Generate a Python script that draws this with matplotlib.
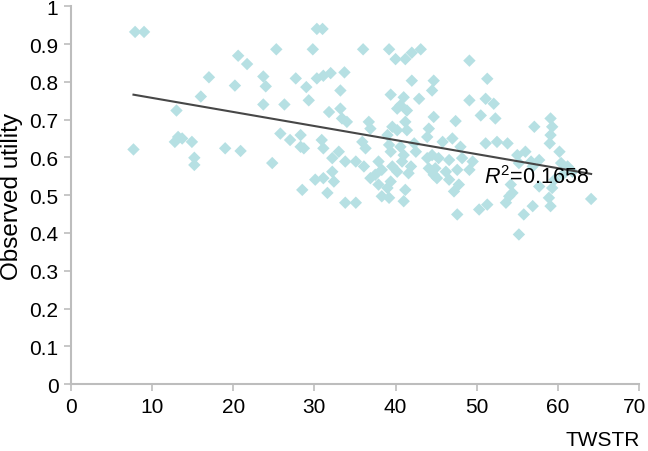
import numpy as np
import matplotlib
matplotlib.use("Agg")
import matplotlib.pyplot as plt
from matplotlib.transforms import ScaledTranslation

plt.rcParams['font.family'] = ['Liberation Sans', 'DejaVu Sans']
plt.rcParams['mathtext.fontset'] = 'custom'
plt.rcParams['mathtext.rm'] = 'Liberation Sans'
plt.rcParams['mathtext.it'] = 'Liberation Sans:italic'

twstr = [
    7.9, 9.0, 20.6, 21.7, 17.0, 20.2, 16.0, 13.0, 13.2, 13.7, 12.8, 14.9, 7.7, 19.0, 20.9, 15.2, 15.2,
    30.3, 31.0, 25.3, 29.8, 23.7, 24.0, 27.7, 29.0, 29.3, 30.3, 31.1, 32.0, 33.7, 33.2, 23.7, 26.3,
    31.8, 33.2, 33.4, 25.8, 27.0, 28.3, 28.3, 28.7, 30.9, 31.1, 32.2, 33.0, 33.8, 24.8, 30.1, 31.1,
    32.2, 32.4, 28.5, 31.6, 33.8, 34.0,
    36.0, 39.2, 40.0, 41.2, 42.0, 43.1, 42.0, 44.7, 39.4, 41.0, 42.9, 44.5, 40.2, 40.6, 41.4,
    36.7, 36.9, 39.6, 40.2, 41.2, 41.4, 44.1, 44.7, 43.9, 35.9, 36.3, 39.0, 39.2, 39.4, 40.6, 41.0,
    42.3, 42.5, 35.1, 36.1, 37.9, 38.3, 37.5, 39.6, 40.2, 40.8, 41.6, 41.9, 43.9, 44.1, 44.7, 36.9,
    37.9, 39.0, 39.4, 38.3, 39.2, 41.2, 41.0, 35.1,
    49.1, 51.3, 49.1, 51.1, 52.1, 50.5, 52.3, 47.4, 45.8, 47.0, 48.0, 51.1, 52.5, 53.8, 55.0, 56.0,
    44.5, 45.3, 46.6, 48.2, 49.5, 44.9, 46.2, 47.6, 49.1, 45.1, 46.6, 47.8, 47.2, 54.2, 54.0, 50.3,
    51.3, 47.6, 53.6, 55.8, 55.2,
    57.1, 59.1, 59.3, 59.1, 59.0, 56.7, 60.2, 60.4, 61.2, 61.8, 59.3, 58.9, 64.1, 56.9, 59.6, 60.6,
    57.7, 56.9, 55.2, 57.7, 54.4, 59.1,
]
utility = [
    0.932, 0.932, 0.869, 0.847, 0.812, 0.790, 0.761, 0.724, 0.654, 0.650, 0.641, 0.641, 0.621, 0.624, 0.617, 0.599, 0.580,
    0.940, 0.940, 0.886, 0.886, 0.814, 0.788, 0.809, 0.786, 0.751, 0.809, 0.816, 0.823, 0.825, 0.777, 0.740, 0.740,
    0.720, 0.729, 0.703, 0.663, 0.646, 0.659, 0.628, 0.624, 0.646, 0.624, 0.598, 0.615, 0.589, 0.585, 0.541, 0.545,
    0.562, 0.536, 0.514, 0.506, 0.480, 0.694,
    0.886, 0.886, 0.860, 0.860, 0.877, 0.886, 0.803, 0.803, 0.766, 0.759, 0.755, 0.777, 0.729, 0.738, 0.724,
    0.694, 0.676, 0.681, 0.672, 0.694, 0.672, 0.676, 0.707, 0.654, 0.641, 0.624, 0.659, 0.633, 0.615, 0.628, 0.606,
    0.637, 0.615, 0.589, 0.576, 0.589, 0.567, 0.554, 0.576, 0.562, 0.589, 0.558, 0.576, 0.598, 0.571, 0.554, 0.545,
    0.528, 0.519, 0.536, 0.497, 0.493, 0.514, 0.484, 0.480,
    0.856, 0.808, 0.751, 0.755, 0.742, 0.711, 0.703, 0.696, 0.641, 0.650, 0.628, 0.637, 0.641, 0.637, 0.606, 0.615,
    0.606, 0.598, 0.593, 0.598, 0.589, 0.571, 0.562, 0.567, 0.567, 0.545, 0.541, 0.528, 0.510, 0.528, 0.497, 0.462,
    0.475, 0.449, 0.480, 0.449, 0.396,
    0.681, 0.703, 0.681, 0.659, 0.637, 0.589, 0.615, 0.585, 0.576, 0.562, 0.519, 0.493, 0.490, 0.471, 0.541, 0.554,
    0.593, 0.576, 0.585, 0.523, 0.506, 0.471,
]

# Linear trend line
trend_slope = -0.00372
trend_intercept = 0.7946
r2_label = r'$\mathit{R}^{2}$=0.1658'

x_ticks = [0, 10, 20, 30, 40, 50, 60, 70]
y_ticks = [0, 0.1, 0.2, 0.3, 0.4, 0.5, 0.6, 0.7, 0.8, 0.9, 1]
y_tick_labels = ['0', '0.1', '0.2', '0.3', '0.4', '0.5', '0.6', '0.7', '0.8', '0.9', '1']

fig = plt.figure(figsize=(6.48, 4.52), dpi=100)
ax = fig.add_axes([71 / 648, 0.148, 568 / 648, 0.836])

ax.scatter(twstr, utility, marker='D', s=40, color='#b6e0e3', edgecolors='none', zorder=2)

xs = np.array([min(twstr), max(twstr)])
ax.plot(xs, trend_intercept + trend_slope * xs, color='#474747', lw=1.5, zorder=3)

ax.text(50.9, 0.533, r2_label, fontsize=15.5, ha='left', va='baseline', color='black', zorder=4)

ax.set_xlim(0, 70)
ax.set_ylim(0, 1)
ax.set_xticks(x_ticks)
ax.set_xticklabels([str(t) for t in x_ticks])
ax.set_yticks(y_ticks)
ax.set_yticklabels(y_tick_labels)

for side in ['top', 'right']:
    ax.spines[side].set_visible(False)
for side in ['left', 'bottom']:
    ax.spines[side].set_color('#bdbdbd')
    ax.spines[side].set_linewidth(1.5)

ax.tick_params(axis='both', direction='out', length=5, width=1.2, color='#bdbdbd',
               labelsize=15, labelcolor='black', pad=4)

# nudge the last x tick label slightly left so it stays in the figure
last = ax.get_xticklabels()[-1]
last.set_transform(last.get_transform() + ScaledTranslation(-4 / 100, 0, fig.dpi_scale_trans))

fig.text(12 / 648, 1 - 197 / 452, 'Observed utility', rotation=90, ha='center', va='center', fontsize=17.5)
fig.text(640 / 648, 1 - 441 / 452, 'TWSTR', ha='right', va='center', fontsize=15)

fig.savefig('out.png', dpi=100)
